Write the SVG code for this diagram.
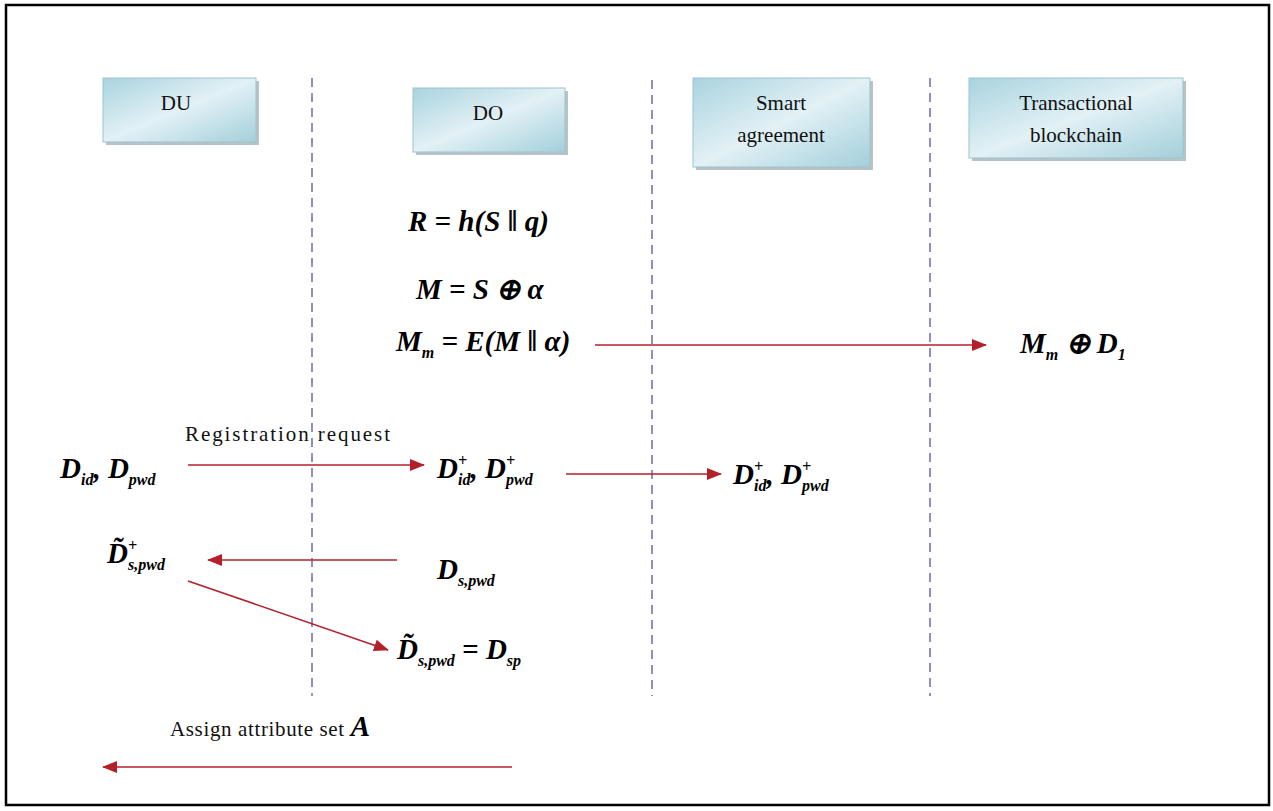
<svg xmlns="http://www.w3.org/2000/svg" width="1273" height="811" viewBox="0 0 1273 811">
<defs>
<linearGradient id="bg" x1="0" y1="0" x2="1" y2="1">
<stop offset="0" stop-color="#a9d3df"/>
<stop offset="0.5" stop-color="#e2f1f5"/>
<stop offset="1" stop-color="#a3cfdb"/>
</linearGradient>
<marker id="ah" markerUnits="userSpaceOnUse" markerWidth="15" markerHeight="12" refX="14" refY="6" orient="auto">
<path d="M0,0 L15,6 L0,12 z" fill="#b3202a"/>
</marker>
</defs>
<style>
.frame{fill:#fff;stroke:#000;stroke-width:2.5}
.box{fill:url(#bg);stroke:#9cc4cf;stroke-width:1}
.shadow{fill:#7f9196;opacity:0.55}
.lbl{font-family:"Liberation Serif",serif;font-size:21px;fill:#111;text-anchor:middle}
.life{stroke:#7a70a8;stroke-width:1.6;stroke-dasharray:9 6;fill:none}
.arr{stroke:#b3202a;stroke-width:1.6;fill:none;marker-end:url(#ah)}
.m{font-family:"Liberation Serif",serif;font-weight:bold;font-style:italic;font-size:29px;fill:#000}
.s{font-size:16px}
.t{font-family:"Liberation Serif",serif;font-size:21px;fill:#111}
</style>
<rect class="frame" x="6" y="5" width="1263" height="800"/>

<g id="lifelines">
<line class="life" x1="312" y1="78" x2="312" y2="696"/>
<line class="life" x1="652" y1="80" x2="652" y2="696"/>
<line class="life" x1="930" y1="78" x2="930" y2="696"/>
</g>

<g id="node-du">
<rect class="shadow" x="106" y="81" width="153" height="64"/>
<rect class="box" x="103" y="78" width="153" height="64"/>
<text class="lbl" x="176" y="110">DU</text>
</g>
<g id="node-do">
<rect class="shadow" x="416" y="91" width="152" height="64"/>
<rect class="box" x="413" y="88" width="152" height="64"/>
<text class="lbl" x="488" y="120">DO</text>
</g>
<g id="node-sa">
<rect class="shadow" x="696" y="81" width="177" height="89"/>
<rect class="box" x="693" y="78" width="177" height="89"/>
<text class="lbl" x="781" y="110">Smart</text>
<text class="lbl" x="781" y="142">agreement</text>
</g>
<g id="node-tb">
<rect class="shadow" x="972" y="81" width="214" height="80"/>
<rect class="box" x="969" y="78" width="214" height="80"/>
<text class="lbl" x="1076" y="110">Transactional</text>
<text class="lbl" x="1076" y="142">blockchain</text>
</g>

<g id="equations">
<text class="m" x="408" y="231">R = h(S ‖ q)</text>
<text class="m" x="416" y="299">M = S ⊕ α</text>
<text class="m" x="396" y="351">M<tspan class="s" dy="7">m</tspan><tspan dy="-7"> = E(M ‖ α)</tspan></text>
<text class="m" x="1020" y="353">M<tspan class="s" dy="7">m</tspan><tspan dy="-7"> ⊕ D</tspan><tspan class="s" dy="7">1</tspan></text>

<text class="m" x="60" y="478">D<tspan class="s" dy="7">id</tspan><tspan dy="-7">, D</tspan><tspan class="s" dy="7">pwd</tspan></text>
<text class="m" x="437" y="478">D<tspan class="s" dy="-12">+</tspan><tspan class="s" dx="-9" dy="19">id</tspan><tspan dy="-7">, D</tspan><tspan class="s" dy="-12">+</tspan><tspan class="s" dx="-9" dy="19">pwd</tspan></text>
<text class="m" x="733" y="484">D<tspan class="s" dy="-12">+</tspan><tspan class="s" dx="-9" dy="19">id</tspan><tspan dy="-7">, D</tspan><tspan class="s" dy="-12">+</tspan><tspan class="s" dx="-9" dy="19">pwd</tspan></text>

<text class="m" x="107" y="563">D̃<tspan class="s" dy="-12">+</tspan><tspan class="s" dx="-9" dy="19">s,pwd</tspan></text>
<text class="m" x="437" y="579">D<tspan class="s" dy="7">s,pwd</tspan></text>
<text class="m" x="397" y="659">D̃<tspan class="s" dy="7">s,pwd</tspan><tspan dy="-7"> = D</tspan><tspan class="s" dy="7">sp</tspan></text>

<text class="t" x="185" y="441" textLength="205">Registration request</text>
<text class="t" x="170" y="736" textLength="200">Assign attribute set <tspan class="m" font-size="24">A</tspan></text>
</g>

<g id="connectors">
<line class="arr" x1="595" y1="345" x2="986" y2="345"/>
<line class="arr" x1="188" y1="465" x2="424" y2="465"/>
<line class="arr" x1="566" y1="474" x2="721" y2="474"/>
<line class="arr" x1="397" y1="560" x2="208" y2="560"/>
<line class="arr" x1="188" y1="581" x2="388" y2="650"/>
<line class="arr" x1="512" y1="767" x2="103" y2="767"/>
</g>
</svg>
